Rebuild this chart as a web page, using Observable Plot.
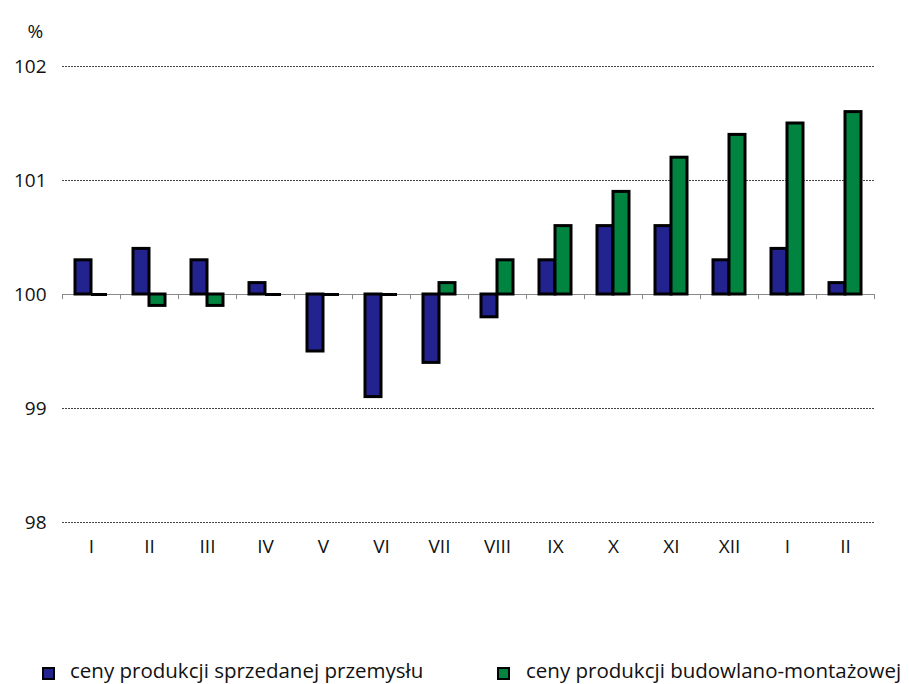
<!DOCTYPE html>
<html><head><meta charset="utf-8">
<script src="https://cdn.jsdelivr.net/npm/d3@7"></script>
<script src="https://cdn.jsdelivr.net/npm/@observablehq/plot@0.6"></script>
<style>
body{margin:0;background:#fff;font-family:"Open Sans",sans-serif;}
svg text{font-family:"Open Sans",sans-serif !important;}
#legend{position:relative;height:84px;font-size:20.5px;color:#111;}
.item{position:absolute;top:58px;display:flex;align-items:center;white-space:nowrap;line-height:24px;}
.sw{width:9px;height:9px;border:2px solid #000;}
</style></head><body><div id="chart"></div><div id="legend"></div>
<script>
const months = ["I","II","III","IV","V","VI","VII","VIII","IX","X","XI","XII","I","II"];
const industry = [100.3,100.4,100.3,100.1,99.5,99.1,99.4,99.8,100.3,100.6,100.6,100.3,100.4,100.1];
const construction = [100.0,99.9,99.9,100.0,100.0,100.0,100.1,100.3,100.6,100.9,101.2,101.4,101.5,101.6];
const seriesNames = ["ceny produkcji sprzedanej przemysłu","ceny produkcji budowlano-montażowej"];
const colors = ["#23238f","#00843f"];
const gridTicks = [98,99,101,102];
const yTicks = [98,99,100,101,102];
const base = 100;

const rows = months.map((m,i)=>({i, m, a: industry[i], b: construction[i]}));
const idx = rows.map(d=>d.i);
const font = '"Open Sans",sans-serif';

const chart = Plot.plot({
  width: 909, height: 600,
  marginLeft: 62, marginRight: 35, marginTop: 66, marginBottom: 78,
  style: {fontSize: "19px", fontFamily: font, color: "#111", background: "#fff"},
  x: {type: "band", domain: idx, padding: 0, tickSize: 0, tickPadding: 17, tickFormat: i => months[i], label: null},
  y: {domain: [98,102], ticks: yTicks, tickSize: 0, tickPadding: 16, tickFormat: d => String(d), label: null},
  marks: [
    Plot.ruleY(gridTicks, {stroke: "#444", strokeWidth: 1, strokeDasharray: "2,1"}),
    Plot.ruleY([base], {stroke: "#8a8a8a", strokeWidth: 1}),
    Plot.ruleX(idx, {x: d => d, y1: base, y2: 99.955, dx: -29, stroke: "#8a8a8a"}),
    Plot.ruleX([idx[idx.length-1]], {x: d => d, y1: base, y2: 99.955, dx: 29, stroke: "#8a8a8a"}),
    Plot.barY(rows, {x: "i", y1: base, y2: "a", fill: colors[0], stroke: "#000", strokeWidth: 3, insetLeft: 13, insetRight: 29}),
    Plot.barY(rows, {x: "i", y1: base, y2: "b", fill: colors[1], stroke: "#000", strokeWidth: 3, insetLeft: 29, insetRight: 13}),
    Plot.tickY(rows.filter(d => d.a === base), {x: "i", y: "a", stroke: "#000", strokeWidth: 3, insetLeft: 13, insetRight: 29}),
    Plot.tickY(rows.filter(d => d.b === base), {x: "i", y: "b", stroke: "#000", strokeWidth: 3, insetLeft: 29, insetRight: 13}),
    Plot.text(["%"], {frameAnchor: "top-left", dx: -35, dy: -42, fontSize: 19})
  ]
});
document.getElementById("chart").appendChild(chart);

const legend = document.getElementById("legend");
const swLefts = [42, 497];
const textLefts = [70, 526];
seriesNames.forEach((n, k) => {
  const sw = document.createElement("span");
  sw.className = "sw";
  sw.style.cssText = `position:absolute;left:${swLefts[k]}px;top:67px;background:${colors[k]};`;
  const t = document.createElement("span");
  t.className = "item";
  t.style.left = textLefts[k] + "px";
  t.textContent = n;
  legend.appendChild(sw); legend.appendChild(t);
});
</script></body></html>
